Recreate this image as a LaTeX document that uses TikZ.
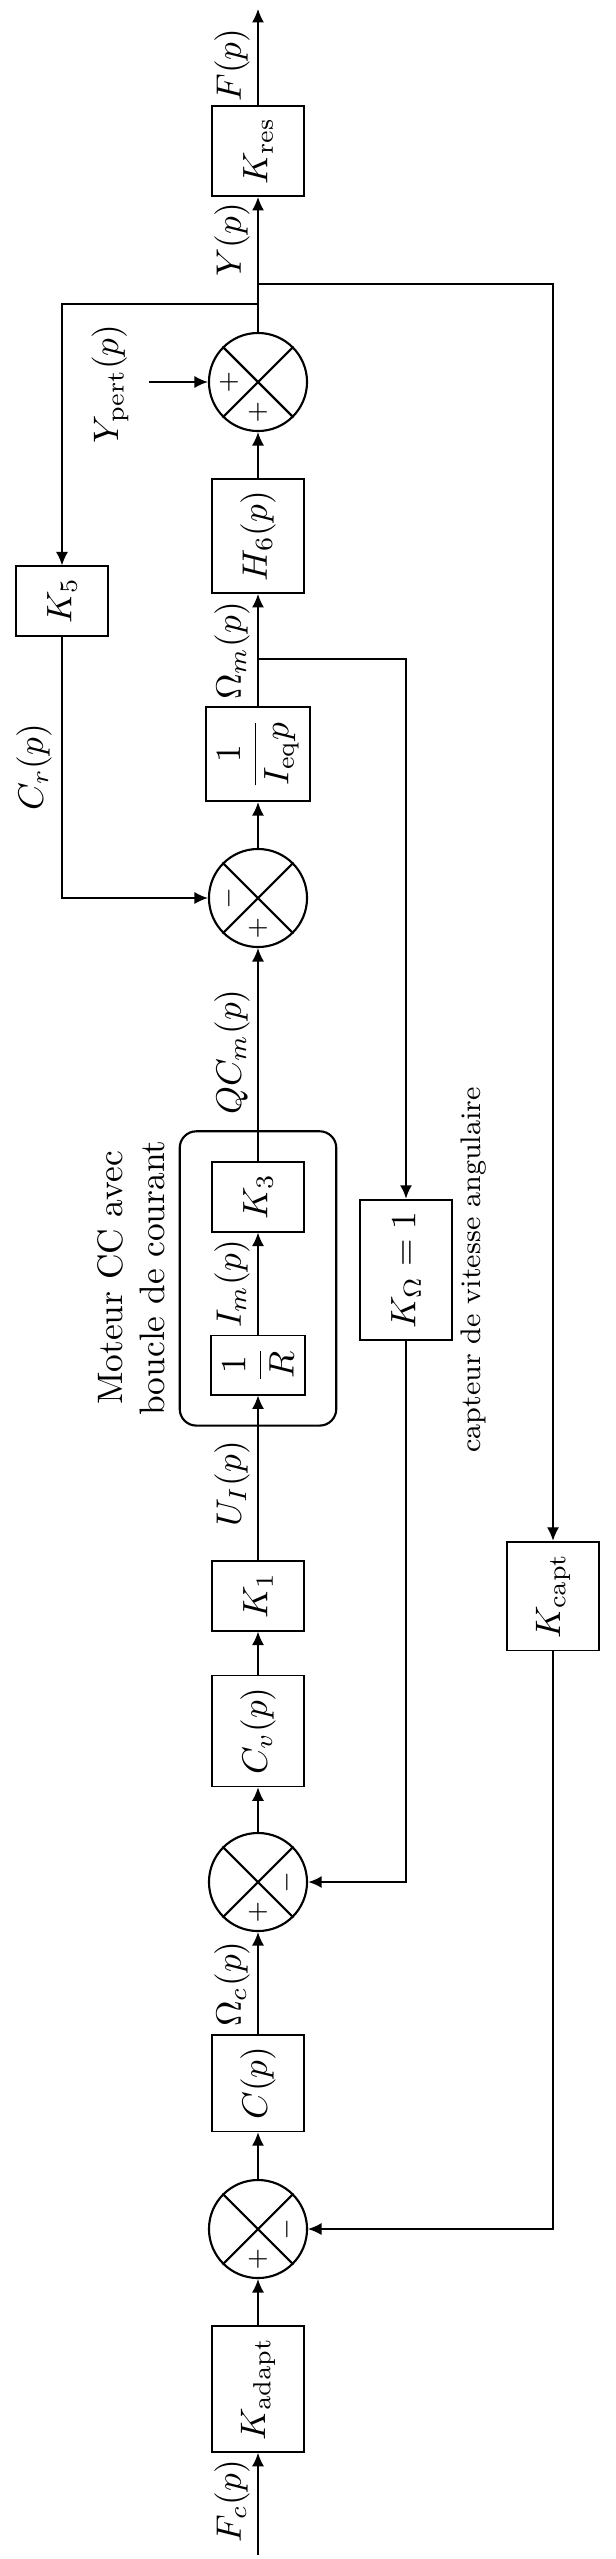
\documentclass[tikz,border=0pt]{standalone}
\usepackage{amsmath}
\usepackage{graphicx}
\usetikzlibrary{arrows.meta,calc,fit}
\newcommand{\rotlab}[1]{\rotatebox{90}{#1}}
\begin{document}
\begin{tikzpicture}[x=0.2825pt,y=-0.2825pt,
  blk/.style={draw, line width=0.5pt, minimum width=0.92cm, inner sep=3.33pt},
  sumn/.style={draw, circle, line width=0.6pt, minimum size=27.7pt, inner sep=0pt},
  lab/.style={rotate=90},
  arr/.style={-{Latex[length=3.8pt,width=3.4pt]}, line width=0.4pt},
  thickarr/.style={arr, line width=0.7pt},
  sgn/.style={font=\scriptsize, inner sep=0pt}]
\useasboundingbox (0,0) rectangle (615,2559);

% main chain
\node[blk] (Kres) at (258,151) {\rotlab{$K_{\mathrm{res}}$}};
\node[sumn] (sum1) at (258,382) {};
\node[blk] (H6) at (258,536) {\rotlab{$H_6(p)$}};
\node[blk] (Ieq) at (258,754) {\rotlab{$\dfrac{1}{I_{\mathrm{eq}}p}$}};
\node[sumn] (sum2) at (258,898) {};
\node[blk] (K3) at (258,1197) {\rotlab{$K_3$}};
\node[blk] (oneR) at (258,1365) {\rotlab{$\dfrac{1}{R}$}};
\node[blk] (K1) at (258,1596) {\rotlab{$K_1$}};
\node[blk] (Cv) at (258,1731) {\rotlab{$C_v(p)$}};
\node[sumn] (sum3) at (258,1882) {};
\node[blk] (C) at (258,2083) {\rotlab{$C(p)$}};
\node[sumn] (sum4) at (258,2229) {};
\node[blk] (Kadapt) at (258,2389) {\rotlab{$K_{\mathrm{adapt}}$}};

% feedback blocks
\node[blk] (K5) at (62,601) {\rotlab{$K_5$}};
\node[blk] (KOm) at (406,1270) {\rotlab{$K_\Omega = 1$}};
\node[blk] (Kcapt) at (553,1596) {\rotlab{$K_{\mathrm{capt}}$}};

% motor group
\node[draw, line width=0.6pt, rounded corners=4.7pt, fit=(K3)(oneR), inner sep=8.5pt] (motor) {};

% summing junction crosses and signs
\foreach \s in {sum1,sum2,sum3,sum4}{
  \draw[line width=0.6pt] (\s.north west) -- (\s.south east) (\s.north east) -- (\s.south west);
  \node[sgn] at ($(\s.center)+(0,30)$) {$+$};
}
\node[sgn] at ($(sum1.center)+(-29,0)$) {$+$};
\node[sgn] at ($(sum2.center)+(-29,0)$) {\rotlab{$-$}};
\node[sgn] at ($(sum3.center)+(29,0)$) {\rotlab{$-$}};
\node[sgn] at ($(sum4.center)+(29,0)$) {\rotlab{$-$}};

% coordinates
\coordinate (in) at (258,2555);
\coordinate (out) at (258,9);
\coordinate (br1) at (258,284);
\coordinate (br2) at (258,304);
\coordinate (brO) at (258,659);
\coordinate (ypin) at (149,382);

% main connectors
\draw[arr] (in) -- (Kadapt);
\draw[arr] (Kadapt) -- (sum4);
\draw[arr] (sum4) -- (C);
\draw[arr] (C) -- (sum3);
\draw[arr] (sum3) -- (Cv);
\draw[arr] (Cv) -- (K1);
\draw[arr] (K1) -- (oneR);
\draw[arr] (oneR) -- (K3);
\draw[arr] (K3) -- (sum2);
\draw[arr] (sum2) -- (Ieq);
\draw[arr] (Ieq) -- (H6);
\draw[arr] (H6) -- (sum1);
\draw[arr] (sum1) -- (Kres);
\draw[arr] (Kres) -- (out);

% feedback connectors
\draw[arr] (br2) -| (K5.north);
\draw[arr] (K5.south) |- (sum2.west);
\draw[arr] (br1) -| (Kcapt.north);
\draw[arr] (Kcapt.south) |- (sum4.east);
\draw[thickarr] (brO) -| (KOm.north);
\draw[thickarr] (KOm.south) |- (sum3.east);
\draw[arr] (ypin) -- (sum1.west);

% labels
\node[lab] (lF) at (232,65) {$F(p)$};
\node[lab] (lY) at (232,240) {$Y(p)$};
\node[lab] (lYp) at (110,384) {$Y_{\mathrm{pert}}(p)$};
\node[lab] (lOm) at (232,651) {$\Omega_m(p)$};
\node[lab] (lCr) at (34,767) {$C_r(p)$};
\node[lab] (lQ) at (232,1052) {$QC_m(p)$};
\node[lab] (lIm) at (232,1284) {$I_m(p)$};
\node[lab] (lU) at (232,1484) {$U_I(p)$};
\node[lab] (lOc) at (232,1984) {$\Omega_c(p)$};
\node[lab] (lFc) at (232,2501) {$F_c(p)$};
\node[lab, align=center] (lmot) at (131,1278) {Moteur CC avec\\boucle de courant};
\node[lab, font=\footnotesize] (lcap) at (474,1270) {capteur de vitesse angulaire};
\end{tikzpicture}
\end{document}
